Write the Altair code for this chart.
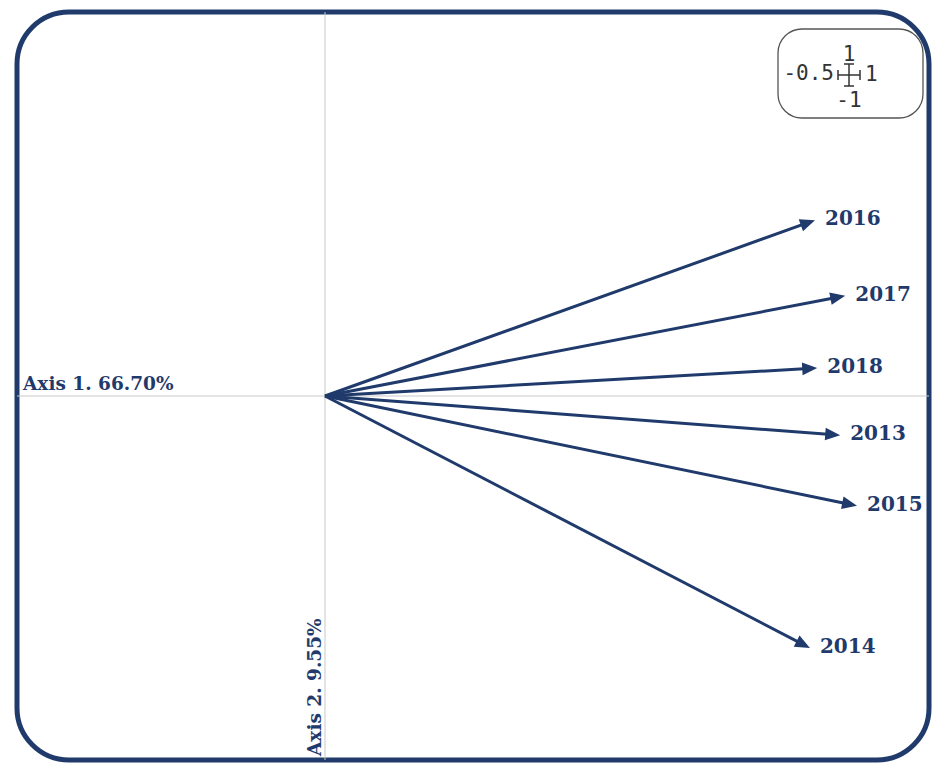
import altair as alt
import numpy as np
import pandas as pd

# ---- data ----
years = ["2016", "2017", "2018", "2013", "2015", "2014"]
axis1 = [0.875, 0.929, 0.879, 0.920, 0.950, 0.866]
axis2 = [0.314, 0.179, 0.050, -0.070, -0.196, -0.450]

axis1_title = "Axis 1. 66.70%"
axis2_title = "Axis 2. 9.55%"

scale_top, scale_bottom, scale_left, scale_right = "1", "-1", "-0.5", "1"

# ---- layout / style ----
NAVY = "#1f3a6b"
GREY = "#c8c8c8"
INK = "#333333"
X_DOMAIN = [-0.55, 1.0786]
Y_DOMAIN = [-0.65, 0.6857]
PX = 560  # pixels per unit (same on both axes)
W = int(round((X_DOMAIN[1] - X_DOMAIN[0]) * PX))
H = int(round((Y_DOMAIN[1] - Y_DOMAIN[0]) * PX))

df = pd.DataFrame({"year": years, "x": axis1, "y": axis2})
df["x0"] = 0.0
df["y0"] = 0.0
length = np.sqrt(df["x"] ** 2 + df["y"] ** 2)
shrink = 1 - 9 / (PX * length)
df["xe"] = df["x"] * shrink
df["ye"] = df["y"] * shrink
df["ang"] = np.degrees(np.arctan2(df["x"], df["y"])) % 360

xs = alt.Scale(domain=X_DOMAIN, nice=False, zero=False)
ys = alt.Scale(domain=Y_DOMAIN, nice=False, zero=False)

axes_df = pd.DataFrame({
    "x": [X_DOMAIN[0], 0.0], "x2": [X_DOMAIN[1], 0.0],
    "y": [0.0, Y_DOMAIN[0]], "y2": [0.0, Y_DOMAIN[1]],
})
axis_lines = alt.Chart(axes_df).mark_rule(color=GREY, strokeWidth=1).encode(
    x=alt.X("x:Q", scale=xs, axis=None), x2="x2:Q",
    y=alt.Y("y:Q", scale=ys, axis=None), y2="y2:Q",
)

shafts = alt.Chart(df).mark_rule(color=NAVY, strokeWidth=3, strokeCap="butt").encode(
    x=alt.X("x0:Q", scale=xs, axis=None), x2="xe:Q",
    y=alt.Y("y0:Q", scale=ys, axis=None), y2="ye:Q",
)

heads = alt.Chart(df).mark_point(
    shape="M0,0 L0.42,1 L-0.42,1 Z", size=900, filled=True, opacity=1,
    color=NAVY, strokeWidth=0,
).encode(
    x=alt.X("x:Q", scale=xs, axis=None),
    y=alt.Y("y:Q", scale=ys, axis=None),
    angle=alt.Angle("ang:Q", scale=None),
)

labels = alt.Chart(df).mark_text(
    align="left", baseline="middle", dx=10, dy=-1, font="DejaVu Serif",
    fontWeight="bold", fontSize=20, color=NAVY,
).encode(
    x=alt.X("x:Q", scale=xs, axis=None),
    y=alt.Y("y:Q", scale=ys, axis=None),
    text="year:N",
)

t1 = alt.Chart(pd.DataFrame({"t": [axis1_title], "x": [X_DOMAIN[0]], "y": [0.0]})).mark_text(
    align="left", baseline="alphabetic", dx=6, dy=-6, font="DejaVu Serif",
    fontWeight="bold", fontSize=18.5, color=NAVY,
).encode(x=alt.X("x:Q", scale=xs, axis=None), y=alt.Y("y:Q", scale=ys, axis=None), text="t:N")

t2 = alt.Chart(pd.DataFrame({"t": [axis2_title], "x": [0.0], "y": [Y_DOMAIN[0]]})).mark_text(
    align="left", baseline="alphabetic", angle=270, dx=4, dy=-4, font="DejaVu Serif",
    fontWeight="bold", fontSize=18.5, color=NAVY,
).encode(x=alt.X("x:Q", scale=xs, axis=None), y=alt.Y("y:Q", scale=ys, axis=None), text="t:N")

# ---- scale key box (top right), pixel positions inside the plot area ----
one = pd.DataFrame({"k": [0]})
KX = -4
box = alt.Chart(one).mark_rect(
    fill="white", stroke="#555555", strokeWidth=1.3, cornerRadius=24
).encode(x=alt.value(765 + KX), x2=alt.value(910 + KX), y=alt.value(17), y2=alt.value(106))

cx, cy, arm, tick = 836 + KX, 63, 11, 5
segs = pd.DataFrame({
    "px": [cx - arm, cx, cx - arm, cx + arm, cx - tick, cx - tick],
    "px2": [cx + arm, cx, cx - arm, cx + arm, cx + tick, cx + tick],
    "py": [cy, cy - arm, cy - tick, cy - tick, cy - arm, cy + arm],
    "py2": [cy, cy + arm, cy + tick, cy + tick, cy - arm, cy + arm],
})
cross = alt.Chart(segs).mark_rule(color=INK, strokeWidth=1.5).encode(
    x=alt.X("px:Q", scale=None), x2="px2:Q",
    y=alt.Y("py:Q", scale=None), y2="py2:Q",
)

def key_text(txt, x, y, align):
    return alt.Chart(one).mark_text(
        text=txt, align=align, baseline="middle", font="DejaVu Sans Mono",
        fontSize=21, color=INK,
    ).encode(x=alt.value(x), y=alt.value(y))

key = (
    box + cross
    + key_text(scale_top, cx, cy - 20, "center")
    + key_text(scale_bottom, cx, cy + 26, "center")
    + key_text(scale_left, cx - 15, cy - 1, "right")
    + key_text(scale_right, cx + 16, cy, "left")
)

chart = (axis_lines + shafts + heads + labels + t1 + t2 + key).properties(
    width=W, height=H,
    background="white",
    autosize=alt.AutoSizeParams(type="none"),
    padding={"left": 9, "top": 4, "right": 3, "bottom": 3},
).configure_view(
    stroke=NAVY, strokeWidth=5, cornerRadius=52, fill="white"
)

chart.save("out.html", embed_options={"renderer": "svg", "actions": False})
